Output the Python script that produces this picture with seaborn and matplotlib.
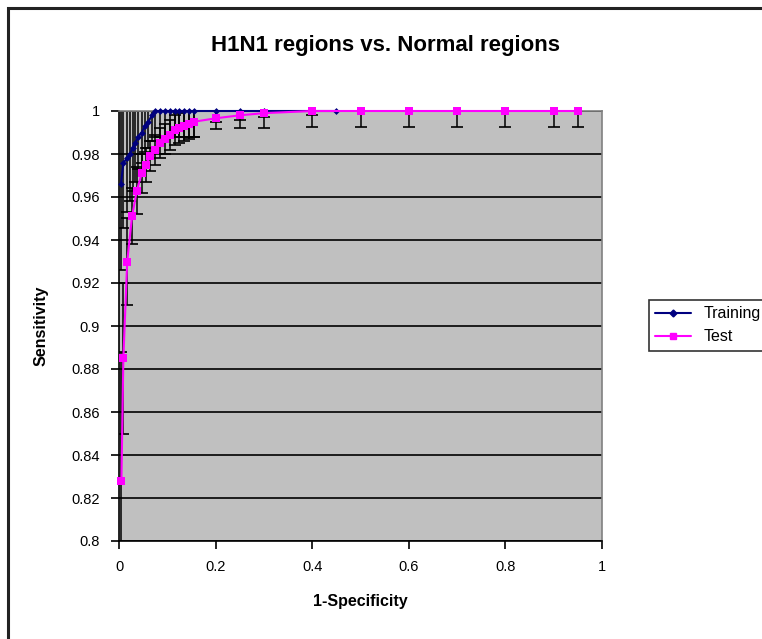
import numpy as np
import pandas as pd
import matplotlib
matplotlib.use("Agg")
import matplotlib.pyplot as plt
import matplotlib.patches as mpatches
from matplotlib.ticker import FuncFormatter
import seaborn as sns

# ---- data ----
train_x = [0.004, 0.009, 0.016, 0.023, 0.028, 0.033, 0.040, 0.047, 0.054, 0.061, 0.068,
           0.075, 0.085, 0.095, 0.105, 0.115, 0.125, 0.135, 0.145, 0.155,
           0.2, 0.25, 0.3, 0.4, 0.45]
train_y = [0.966, 0.9757, 0.978, 0.980, 0.983, 0.985, 0.988, 0.990, 0.993, 0.995, 0.998,
           1.0, 1.0, 1.0, 1.0, 1.0, 1.0, 1.0, 1.0, 1.0,
           1.0, 1.0, 1.0, 1.0, 1.0]
train_err = [0.04, 0.03, 0.025, 0.022, 0.02, 0.018, 0.015, 0.014, 0.012, 0.012, 0.012,
             0.012, 0.012, 0.012, 0.012, 0.012, 0.012, 0.012, 0.012, 0.012,
             0.005, 0.004, 0.003, 0.002, 0.0]

test_x = [0.005, 0.009, 0.017, 0.027, 0.037, 0.047, 0.055, 0.065, 0.075, 0.085, 0.095,
          0.105, 0.115, 0.125, 0.135, 0.145, 0.155, 0.2, 0.25, 0.3,
          0.4, 0.5, 0.6, 0.7, 0.8, 0.9, 0.95]
test_y = [0.828, 0.885, 0.930, 0.951, 0.963, 0.971, 0.975, 0.979, 0.982, 0.985, 0.987,
          0.989, 0.991, 0.992, 0.993, 0.994, 0.995, 0.9966, 0.998, 0.999,
          1.0, 1.0, 1.0, 1.0, 1.0, 1.0, 1.0]
test_err = [0.06, 0.035, 0.02, 0.013, 0.011, 0.009, 0.008, 0.007, 0.007, 0.007, 0.007,
            0.007, 0.007, 0.007, 0.007, 0.007, 0.007, 0.005, 0.006, 0.007,
            0.0073, 0.0073, 0.0073, 0.0073, 0.0073, 0.0073, 0.0073]

series_names = ["Training", "Test"]
x_ticks = [0, 0.2, 0.4, 0.6, 0.8, 1.0]
y_ticks = [0.8, 0.82, 0.84, 0.86, 0.88, 0.9, 0.92, 0.94, 0.96, 0.98, 1.0]

title = "H1N1 regions vs. Normal regions"
xlabel = "1-Specificity"
ylabel = "Sensitivity"

# ---- style ----
sns.set_style("white")
plt.rcParams["font.family"] = ["Liberation Sans", "DejaVu Sans"]
plt.rcParams["text.color"] = "black"

df = pd.DataFrame({
    "x": train_x + test_x,
    "y": train_y + test_y,
    "series": [series_names[0]] * len(train_x) + [series_names[1]] * len(test_x),
})

fig = plt.figure(figsize=(7.62, 6.39), dpi=100)
ax = fig.add_axes([119 / 762, 1 - 541 / 639, (602 - 119) / 762, (541 - 111) / 639])
ax.set_facecolor("#C0C0C0")

# error bars
ax.errorbar(train_x, train_y, yerr=train_err, fmt="none", ecolor="black",
            elinewidth=1.1, capsize=4.5, capthick=1.2, zorder=2)
ax.errorbar(test_x, test_y, yerr=test_err, fmt="none", ecolor="black",
            elinewidth=1.1, capsize=4.5, capthick=1.2, zorder=2)

palette = {"Training": "#000080", "Test": "#FF00FF"}
sns.lineplot(data=df, x="x", y="y", hue="series", style="series",
             markers={"Training": "D", "Test": "s"}, dashes=False,
             palette=palette, sort=False, estimator=None, linewidth=1.5,
             markersize=3.5, markeredgewidth=0, ax=ax, zorder=3, legend=False)
ax.lines[-1].set_markersize(5.5)
for ln in ax.lines[-2:]:
    ln.set_clip_on(False)

ax.set_xlim(0, 1)
ax.set_ylim(0.8, 1.0)
ax.set_xticks(x_ticks)
ax.set_yticks(y_ticks)
fmt = FuncFormatter(lambda v, p: f"{v:g}")
ax.xaxis.set_major_formatter(fmt)
ax.yaxis.set_major_formatter(fmt)
ax.grid(axis="y", color="black", linewidth=1.2, zorder=0)
ax.set_axisbelow(True)
ax.tick_params(axis="both", direction="out", length=6, width=1.2, color="black",
               labelsize=10.5, labelcolor="black", pad=8, left=True, bottom=True)
for side in ["top", "right"]:
    ax.spines[side].set_color("#808080")
    ax.spines[side].set_linewidth(1.2)
for side in ["left", "bottom"]:
    ax.spines[side].set_color("black")
    ax.spines[side].set_linewidth(1.2)

ax.set_xlabel(xlabel, fontsize=11.5, fontweight="bold", labelpad=14, color="black")
ax.set_ylabel(ylabel, fontsize=11.5, fontweight="bold", labelpad=16, color="black")
fig.text(386 / 762, 1 - 46 / 639, title, ha="center", va="center",
         fontsize=16, fontweight="bold", color="black")

# legend
handles = [
    plt.Line2D([], [], color="#000080", marker="D", markersize=3.5, linewidth=1.5),
    plt.Line2D([], [], color="#FF00FF", marker="s", markersize=5, linewidth=1.5),
]
leg = fig.legend(handles, series_names, loc="upper left",
                 bbox_to_anchor=(641 / 762, 1 - 292 / 639), frameon=True,
                 fancybox=False, edgecolor="black", fontsize=11.5,
                 handlelength=2.2, borderpad=0.4, labelspacing=0.5)
leg.get_frame().set_linewidth(1.2)
for t in leg.get_texts():
    t.set_color("black")

# outer chart frame
fig.patches.append(mpatches.Rectangle((8 / 762, -0.1), 1.2, 1 - 8 / 639 + 0.1,
                                      transform=fig.transFigure, fill=False,
                                      edgecolor="#222222", linewidth=2.2))

fig.savefig("out.png", dpi=100)
